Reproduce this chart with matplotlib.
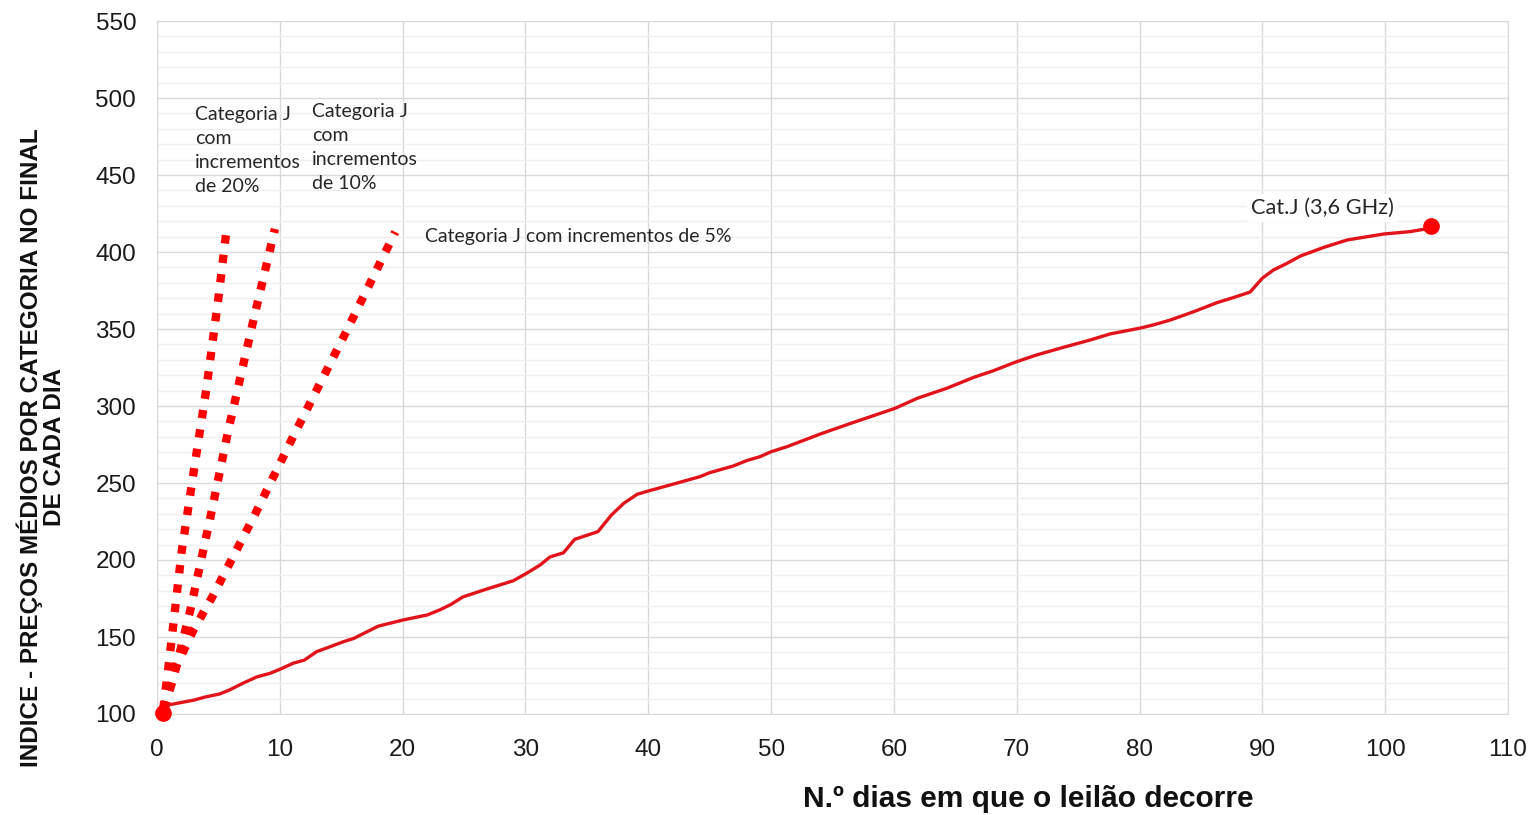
import numpy as np
import matplotlib.pyplot as plt
from matplotlib.ticker import MultipleLocator

# curva real Cat.J
dias = [0.5, 1.0, 3.0, 3.9, 5.1, 5.9, 7.0, 8.1, 9.2, 10.0, 11.1, 12.0, 13.0, 14.1, 15.2, 16.0,
        17.1, 18.0, 20.0, 22.0, 23.0, 23.9, 24.9, 26.6, 29.0, 30.1, 31.2, 32.0, 33.1, 34.0,
        35.9, 37.0, 38.0, 39.1, 40.0, 42.0, 44.2, 45.0, 46.9, 48.0, 49.1, 50.0, 51.3, 54.0,
        56.4, 60.1, 61.9, 64.3, 66.5, 68.1, 70.0, 71.6, 73.8, 76.0, 77.6, 80.0, 81.1, 82.5,
        84.4, 86.3, 87.6, 89.0, 90.0, 90.9, 92.0, 93.1, 95.0, 96.9, 98.2, 99.9, 102.0, 103.7]
indice = [100.5, 106, 109, 111, 113, 115.6, 120, 124, 126.4, 129, 133, 135, 140.5, 143.7, 147, 149,
          153.4, 157, 161, 164.3, 167.5, 171, 176, 180.5, 186.5, 191.4, 196.8, 202, 204.7, 213.4,
          218.4, 229.2, 236.8, 242.7, 244.8, 249.2, 254.1, 256.7, 261, 264.5, 267.1, 270.3, 273.6, 281.8,
          288.5, 298.5, 305, 311.5, 318.6, 322.9, 328.8, 333.1, 338.1, 342.9, 346.8, 350.5, 352.6, 355.8,
          361.2, 367.1, 370.3, 374, 383, 388.3, 392.6, 397.4, 403, 407.8, 409.5, 411.7, 413.2, 415.5]

# cenarios com incrementos
x_20 = [0.5, 1.0, 2.0, 3.0, 4.0, 5.0, 5.7]
y_20 = [103, 135, 205, 258, 310, 370, 417]
x_10 = [0.5, 1.3, 2.7, 4.3, 5.8, 7.8, 9.6]
y_10 = [103, 122, 167, 226, 284, 354, 415]
x_5 = [0.6, 1.5, 3.0, 4.5, 8.0, 11.2, 15.2, 19.4]
y_5 = [103, 130, 155, 176, 230, 282, 345, 413]

vermelho = '#ff0000'
linha = '#e0141a'
texto = '#262626'

fig = plt.figure(figsize=(15.39, 8.15), dpi=100)
ax = fig.add_axes([157/1539, 1 - 714/815, (1508-157)/1539, (714-21)/815])

for xs, ys in [(x_20, y_20), (x_10, y_10), (x_5, y_5)]:
    ax.plot(xs, ys, color=vermelho, linewidth=6, dashes=(1, 1.35), dash_capstyle='butt', zorder=3)

ax.plot(dias, indice, color=linha, linewidth=2.4, zorder=4)
ax.plot([dias[0], dias[-1]], [indice[0], 417], 'o', color=vermelho, markersize=11, zorder=5,
        clip_on=False)

ax.set_xlim(0, 110)
ax.set_ylim(100, 550)
ax.xaxis.set_major_locator(MultipleLocator(10))
ax.yaxis.set_major_locator(MultipleLocator(50))
ax.yaxis.set_minor_locator(MultipleLocator(10))
ax.grid(True, which='major', color='#d9d9d9', linewidth=1)
ax.grid(True, which='minor', axis='y', color='#efefef', linewidth=1)
ax.set_axisbelow(True)
for s in ax.spines.values():
    s.set_color('#d9d9d9')
ax.tick_params(which='both', length=0)
ax.tick_params(axis='x', pad=18, labelsize=17.5, labelcolor='#1a1a1a')
ax.tick_params(axis='y', pad=15, labelsize=17.5, labelcolor='#1a1a1a')
for lab in ax.get_xticklabels() + ax.get_yticklabels():
    lab.set_family('Liberation Sans')

ax.set_xlabel('N.º dias em que o leilão decorre', fontsize=21.5, fontweight='bold',
              family='Liberation Sans', color='#111111')
ax.xaxis.set_label_coords(0.645, -0.102)
ax.set_ylabel('INDICE - PREÇOS MÉDIOS POR CATEGORIA NO FINAL\nDE CADA DIA', fontsize=17.5,
              fontweight='bold', family='Liberation Sans', linespacing=1.05, color='#111111')
ax.yaxis.set_label_coords(-0.067, 0.385)

txt = dict(family='Lato', fontsize=14, color=texto, linespacing=1.5, va='top', ha='left')
ax.text(3.1, 495, 'Categoria J\ncom\nincrementos\nde 20%', **txt)
ax.text(12.6, 497, 'Categoria J\ncom\nincrementos\nde 10%', **txt)
ax.text(21.8, 410, 'Categoria J com incrementos de 5%', family='Lato', fontsize=14,
        color=texto, va='center', ha='left')
ax.text(94.9, 428.5, 'Cat.J (3,6 GHz)', family='Lato', fontsize=15.7, color=texto,
        va='center', ha='center', bbox=dict(facecolor='white', edgecolor='none', pad=3))

fig.savefig('out.png', dpi=100)
